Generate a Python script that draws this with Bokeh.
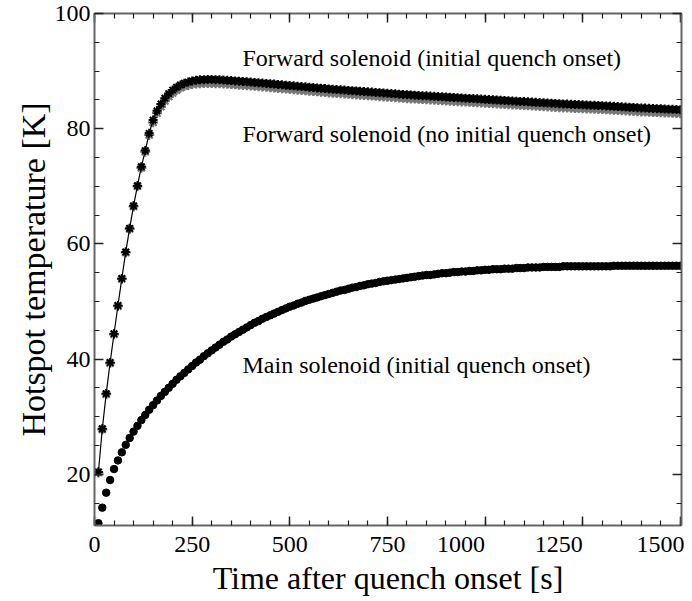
from bokeh.plotting import figure
from bokeh.models import LinearAxis, Range1d, Label, FixedTicker, ColumnDataSource
from bokeh.embed import file_html
from bokeh.resources import INLINE

# time samples [s]
time_s = list(range(10, 1501, 10))

main_initial = [
    11.5, 14.2, 16.8, 19.0, 20.9, 22.4, 23.8, 25.1, 26.3, 27.4,
    28.4, 29.4, 30.3, 31.2, 32.0, 32.8, 33.6, 34.3, 35.0, 35.7,
    36.4, 37.0, 37.6, 38.2, 38.8, 39.4, 39.9, 40.5, 41.0, 41.5,
    42.0, 42.5, 43.0, 43.4, 43.9, 44.3, 44.7, 45.1, 45.5, 45.9,
    46.3, 46.6, 47.0, 47.3, 47.6, 47.9, 48.2, 48.5, 48.8, 49.1,
    49.3, 49.6, 49.8, 50.1, 50.3, 50.5, 50.7, 50.9, 51.1, 51.3,
    51.5, 51.7, 51.9, 52.0, 52.2, 52.4, 52.5, 52.7, 52.8, 53.0,
    53.1, 53.2, 53.4, 53.5, 53.6, 53.7, 53.8, 53.9, 54.0, 54.1,
    54.2, 54.3, 54.4, 54.5, 54.6, 54.6, 54.7, 54.8, 54.9, 54.9,
    55.0, 55.1, 55.1, 55.2, 55.2, 55.3, 55.3, 55.4, 55.4, 55.5,
    55.5, 55.6, 55.6, 55.6, 55.7, 55.7, 55.7, 55.8, 55.8, 55.8,
    55.9, 55.9, 55.9, 55.9, 56.0, 56.0, 56.0, 56.0, 56.0, 56.1,
    56.1, 56.1, 56.1, 56.1, 56.1, 56.1, 56.1, 56.1, 56.1, 56.1,
    56.1, 56.1, 56.2, 56.2, 56.2, 56.2, 56.2, 56.2, 56.2, 56.2,
    56.2, 56.2, 56.2, 56.2, 56.2, 56.2, 56.2, 56.2, 56.2, 56.2,
]

forward_initial = [
    20.4, 27.9, 34.0, 39.4, 44.4, 49.3, 54.0, 58.6, 62.7, 66.6,
    70.1, 73.4, 76.2, 79.2, 81.5, 83.1, 84.3, 85.3, 86.1, 86.7,
    87.2, 87.6, 87.9, 88.1, 88.3, 88.4, 88.5, 88.5, 88.55, 88.55,
    88.5, 88.5, 88.45, 88.4, 88.35, 88.3, 88.25, 88.2, 88.15, 88.1,
    88.04, 87.98, 87.92, 87.86, 87.8, 87.74, 87.68, 87.62, 87.56, 87.5,
    87.44, 87.38, 87.32, 87.26, 87.2, 87.14, 87.08, 87.02, 86.96, 86.9,
    86.85, 86.8, 86.75, 86.7, 86.65, 86.6, 86.55, 86.5, 86.45, 86.4,
    86.35, 86.3, 86.25, 86.2, 86.15, 86.1, 86.05, 86.0, 85.95, 85.9,
    85.86, 85.82, 85.78, 85.74, 85.7, 85.66, 85.62, 85.58, 85.54, 85.5,
    85.46, 85.42, 85.38, 85.34, 85.3, 85.26, 85.22, 85.18, 85.14, 85.1,
    85.06, 85.02, 84.98, 84.94, 84.9, 84.86, 84.82, 84.78, 84.74, 84.7,
    84.66, 84.62, 84.58, 84.54, 84.5, 84.46, 84.42, 84.38, 84.34, 84.3,
    84.27, 84.24, 84.21, 84.18, 84.15, 84.12, 84.09, 84.06, 84.03, 84.0,
    83.96, 83.92, 83.88, 83.84, 83.8, 83.76, 83.72, 83.68, 83.64, 83.6,
    83.57, 83.54, 83.51, 83.48, 83.45, 83.42, 83.39, 83.36, 83.33, 83.3,
]

forward_no_initial = [
    20.3, 27.8, 33.9, 39.3, 44.3, 49.2, 53.9, 58.5, 62.6, 66.5,
    70.0, 73.2, 76.0, 78.9, 81.1, 82.7, 83.8, 84.8, 85.6, 86.2,
    86.7, 87.1, 87.4, 87.6, 87.75, 87.85, 87.9, 87.95, 87.95, 87.95,
    87.9, 87.9, 87.85, 87.8, 87.75, 87.7, 87.65, 87.6, 87.55, 87.5,
    87.44, 87.38, 87.32, 87.26, 87.2, 87.14, 87.08, 87.02, 86.96, 86.9,
    86.84, 86.78, 86.72, 86.66, 86.6, 86.54, 86.48, 86.42, 86.36, 86.3,
    86.25, 86.2, 86.15, 86.1, 86.05, 86.0, 85.95, 85.9, 85.85, 85.8,
    85.75, 85.7, 85.65, 85.6, 85.55, 85.5, 85.45, 85.4, 85.35, 85.3,
    85.26, 85.22, 85.18, 85.14, 85.1, 85.06, 85.02, 84.98, 84.94, 84.9,
    84.86, 84.82, 84.78, 84.74, 84.7, 84.66, 84.62, 84.58, 84.54, 84.5,
    84.46, 84.42, 84.38, 84.34, 84.3, 84.26, 84.22, 84.18, 84.14, 84.1,
    84.06, 84.02, 83.98, 83.94, 83.9, 83.86, 83.82, 83.78, 83.74, 83.7,
    83.67, 83.64, 83.61, 83.58, 83.55, 83.52, 83.49, 83.46, 83.43, 83.4,
    83.36, 83.32, 83.28, 83.24, 83.2, 83.16, 83.12, 83.08, 83.04, 83.0,
    82.97, 82.94, 82.91, 82.88, 82.85, 82.82, 82.79, 82.76, 82.73, 82.7,
]

x_ticks = [0, 250, 500, 750, 1000, 1250, 1500]
y_ticks = [20, 40, 60, 80, 100]
x_minor = list(range(0, 1501, 50))
y_minor = list(range(10, 101, 5))

labels = [
    ("Forward solenoid (initial quench onset)", 379, 92.3),
    ("Forward solenoid (no initial quench onset)", 379, 79.1),
    ("Main solenoid (initial quench onset)", 379, 39.0),
]

SERIF = "Liberation Serif"
Y_MIN, Y_MAX = 11.1, 100
FIG_SP = "\u2007"  # figure space, same width as a digit

p = figure(width=684, height=598, x_range=Range1d(0, 1503), y_range=Range1d(Y_MIN, Y_MAX),
           output_backend="svg", toolbar_location=None,
           min_border_left=94, min_border_right=3, min_border_top=13, min_border_bottom=67)
p.grid.visible = False
p.outline_line_color = None
p.background_fill_color = "white"
p.border_fill_color = "white"

bottom = p.below[0]
left = p.left[0]

src = ColumnDataSource(dict(t=time_s, main=main_initial, fi=forward_initial, fn=forward_no_initial))

p.scatter("t", "fn", source=src, marker="asterisk", size=10, line_width=2.2, line_color="#777777")
p.line("t", "fi", source=src, line_color="black", line_width=1.2)
p.scatter("t", "fi", source=src, marker="asterisk", size=9, line_width=2, line_color="black")
p.scatter("t", "main", source=src, marker="circle", size=7.5, fill_color="black", line_color="black")

bottom.ticker = FixedTicker(ticks=x_ticks, minor_ticks=x_minor)
left.ticker = FixedTicker(ticks=y_ticks, minor_ticks=y_minor)
bottom.axis_label = "Time after quench onset [s]"
left.axis_label = "Hotspot temperature [K]"
# four-digit labels sit to the left of their ticks (ending at the tick), as in the reference;
# the last one is kept inside the canvas by Bokeh itself
bottom.major_label_overrides = {t: str(t) + FIG_SP * 4 for t in x_ticks if 1000 <= t < 1500}

top = LinearAxis(ticker=FixedTicker(ticks=x_ticks, minor_ticks=x_minor),
                 major_label_overrides={t: "" for t in x_ticks})
right = LinearAxis(ticker=FixedTicker(ticks=y_ticks, minor_ticks=y_minor),
                   major_label_overrides={t: "" for t in y_ticks})
for ax in (top, right):
    ax.major_label_standoff = 0
    ax.major_label_text_font_size = "1px"
p.add_layout(top, "above")
p.add_layout(right, "right")

for ax in (bottom, left, top, right):
    ax.major_tick_in = 9
    ax.major_tick_out = 0
    ax.minor_tick_in = 5
    ax.minor_tick_out = 0
    ax.axis_line_color = "#666666"
    ax.axis_line_width = 2
    ax.major_tick_line_color = "#222222"
    ax.major_tick_line_width = 1.5
    ax.minor_tick_line_color = "#222222"
    ax.minor_tick_line_width = 1.2

for ax in (bottom, left):
    ax.major_label_text_font = SERIF
    ax.major_label_text_font_size = "24px"
    ax.major_label_text_color = "black"
    ax.axis_label_text_font = SERIF
    ax.axis_label_text_font_style = "normal"
    ax.axis_label_text_color = "black"
bottom.major_label_standoff = 5
left.major_label_standoff = 4
bottom.axis_label_text_font_size = "32px"
left.axis_label_text_font_size = "34px"
bottom.axis_label_standoff = 0
left.axis_label_standoff = 0

for txt, x, y in labels:
    p.add_layout(Label(x=x, y=y, text=txt, text_font=SERIF, text_font_size="24px",
                       text_baseline="middle", text_align="left", text_color="black"))

open("out.html", "w").write(file_html(p, INLINE))
